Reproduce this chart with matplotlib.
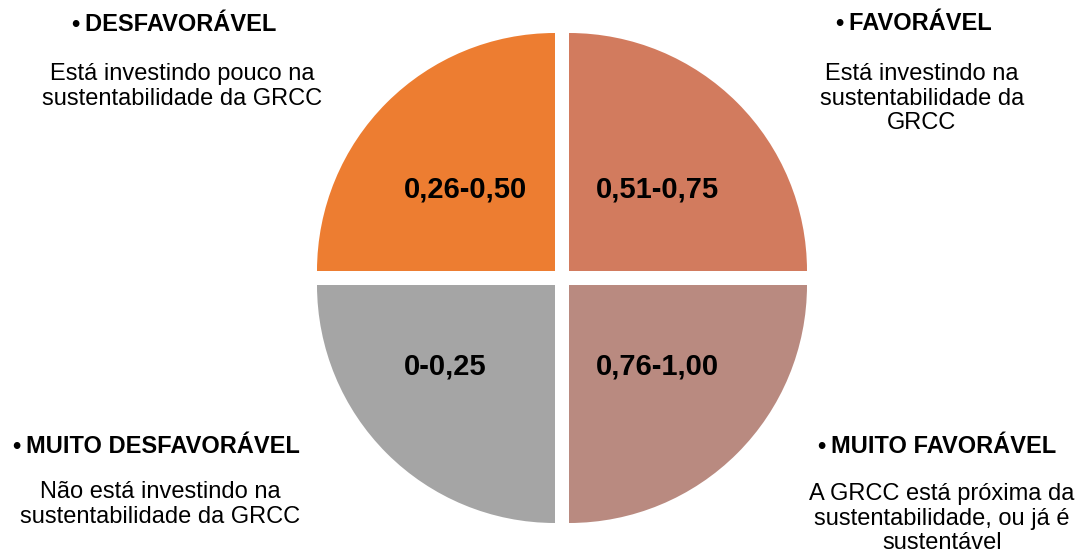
import matplotlib.pyplot as plt

plt.rcParams['font.family'] = ['Liberation Sans', 'DejaVu Sans']

# quadrants, clockwise from the top right
faixas = ['0,51-0,75', '0,76-1,00', '0-0,25', '0,26-0,50']
pesos = [1, 1, 1, 1]
cores = ['#D27B5E', '#B98A80', '#A5A5A5', '#ED7D31']

titulos = ['FAVORÁVEL', 'MUITO FAVORÁVEL', 'MUITO DESFAVORÁVEL', 'DESFAVORÁVEL']
descricoes = [
    'Está investindo na\nsustentabilidade da\nGRCC',
    'A GRCC está próxima da\nsustentabilidade, ou já é\nsustentável',
    'Não está investindo na\nsustentabilidade da GRCC',
    'Está investindo pouco na\nsustentabilidade da GRCC',
]

W, H = 1084, 553
fig = plt.figure(figsize=(W / 100, H / 100), dpi=100)
ax = fig.add_axes([0, 0, 1, 1])

R = 238
cx, cy = 562, H - 278
# explode is in data units here: 7 px each way along the diagonal
wedges, texts = ax.pie(pesos, colors=cores, labels=faixas, labeldistance=0.53,
                       startangle=90, counterclock=False, radius=R,
                       center=(cx, cy), explode=[9.9] * 4, frame=True,
                       wedgeprops=dict(linewidth=0),
                       textprops=dict(fontsize=21, fontweight='bold', color='black'))
# range labels start at a common left edge inside each quadrant
for t in texts:
    t.set_ha('left')
    t.set_va('center')
    x, y = t.get_position()
    t.set_position((x - 62, cy + (y - cy) * 0.92))

# header and description positions (x centre, header baseline, description top)
pos_tit = [(914, H - 30), (937, H - 453), (156, H - 453), (174, H - 31)]
pos_desc = [(922, H - 63), (942, H - 483), (160, H - 481), (182, H - 63)]
for tit, desc, (tx, ty), (dx, dy) in zip(titulos, descricoes, pos_tit, pos_desc):
    ax.text(tx, ty, '•\u2009' + tit, ha='center', va='baseline', fontsize=17,
            fontweight='bold', color='black')
    ax.text(dx, dy, desc, ha='center', va='top', fontsize=17,
            linespacing=1.16, color='black')

ax.set_xlim(0, W)
ax.set_ylim(0, H)
ax.set_aspect('equal')
ax.axis('off')

fig.savefig('out.png', dpi=100, facecolor='white')
